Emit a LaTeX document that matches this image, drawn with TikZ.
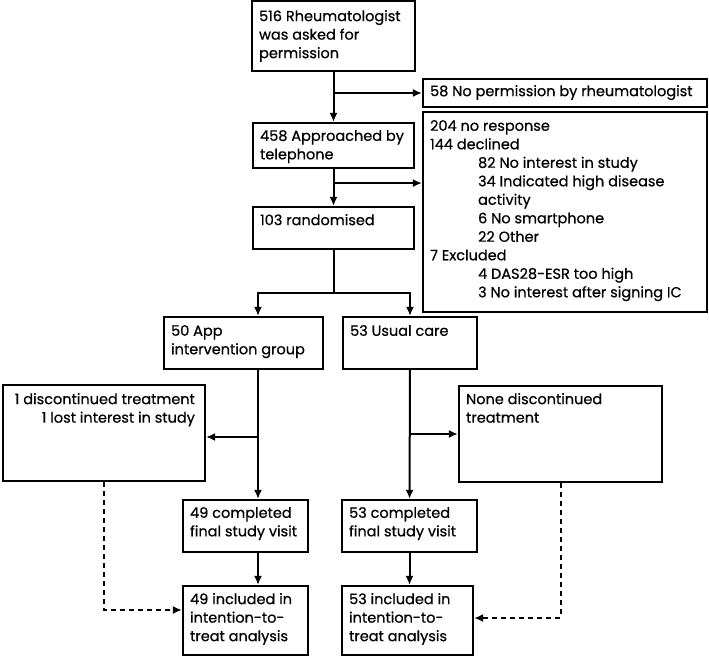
\documentclass[tikz,border=0pt]{standalone}
\usepackage{fontspec}
\setmainfont{Poppins}[BoldFont=Poppins, BoldFeatures={FakeBold=0.6}]
\usepackage{tikz}
\usetikzlibrary{arrows.meta, positioning, calc}

\newcommand{\sublvl}{\hspace*{48pt}}

\tikzset{
  box/.style={draw, line width=2.2pt, inner sep=0pt},
  txt/.style={inner sep=0pt, align=left, font=\bfseries\fontsize{14.5}{18.5}\selectfont},
  arr/.style={line width=2pt, -{Latex[length=9pt,width=8pt]}},
  dasharr/.style={arr, dash pattern=on 5pt off 4pt},
}

\begin{document}
\begin{tikzpicture}[x=1pt, y=-1pt]
  \useasboundingbox (0,0) rectangle (709,657);

  % boxes
  \node[box, minimum width=163pt, minimum height=70pt] (perm) at (333.5,36) {};
  \node[box, minimum width=284pt, minimum height=28pt] (noperm) at (565,93) {};
  \node[box, minimum width=161pt, minimum height=45pt] (phone) at (333.5,145.5) {};
  \node[box, minimum width=284pt, minimum height=200pt] (excl) at (565,212) {};
  \node[box, minimum width=161pt, minimum height=42pt] (rand) at (333.5,228) {};
  \node[box, minimum width=159pt, minimum height=52pt] (app) at (243.5,343) {};
  \node[box, minimum width=134pt, minimum height=52pt] (usual) at (410,343) {};
  \node[box, minimum width=202pt, minimum height=96pt] (lostL) at (104,433) {};
  \node[box, minimum width=203pt, minimum height=96pt] (noneR) at (560.5,434) {};
  \node[box, minimum width=125pt, minimum height=52pt] (compL) at (245.5,526) {};
  \node[box, minimum width=135pt, minimum height=52pt] (compR) at (409.5,526) {};
  \node[box, minimum width=125pt, minimum height=69pt] (ittL) at (245.5,620.5) {};
  \node[box, minimum width=131pt, minimum height=69pt] (ittR) at (407.5,620.5) {};

  % texts
  \node[txt, below right=10pt and 8pt of perm.north west] (permT)
    {516 Rheumatologist\\was asked for\\permission};
  \node[txt, below right=7pt and 8pt of noperm.north west] (nopermT)
    {58 No permission by rheumatologist};
  \node[txt, below right=8pt and 8pt of phone.north west] (phoneT)
    {458 Approached by\\telephone};
  \node[txt, below right=9pt and 8pt of excl.north west] (exclT)
    {204 no response\\144 declined\\
     \sublvl 82 No interest in study\\
     \sublvl 34 Indicated high disease\\
     \sublvl activity\\
     \sublvl 6 No smartphone\\
     \sublvl 22 Other\\
     7 Excluded\\
     \sublvl 4 DAS28-ESR too high\\
     \sublvl 3 No interest after signing IC};
  \node[txt, below right=8pt and 8pt of rand.north west] (randT)
    {103 randomised};
  \node[txt, below right=9pt and 8pt of app.north west] (appT)
    {50 App\\intervention group};
  \node[txt, below right=9pt and 8pt of usual.north west] (usualT)
    {53 Usual care};
  \node[txt, align=right, below left=9pt and 11pt of lostL.north east] (lostT)
    {1 discontinued treatment\\1 lost interest in study};
  \node[txt, below right=8pt and 8pt of noneR.north west] (noneT)
    {None discontinued\\treatment};
  \node[txt, below right=8pt and 8pt of compL.north west] (compLT)
    {49 completed\\final study visit};
  \node[txt, below right=8pt and 8pt of compR.north west] (compRT)
    {53 completed\\final study visit};
  \node[txt, below right=8pt and 8pt of ittL.north west] (ittLT)
    {49 included in\\intention-to-\\treat analysis};
  \node[txt, below right=8pt and 8pt of ittR.north west] (ittRT)
    {53 included in\\intention-to-\\treat analysis};

  % top column
  \draw[arr] (perm) -- (phone);
  \draw[arr] (perm.south |- noperm.west) -- (noperm.west);
  \draw[arr] (phone) -- (rand);
  \coordinate (br2) at ($(phone.south)!0.38!(rand.north)$);
  \draw[arr] (br2) -- (br2 -| excl.west);

  % randomisation split
  \draw[line width=2pt] (rand.south) -- ++(0,43) coordinate (split);
  \coordinate (colL) at ([xshift=14.5pt]app.south);
  \draw[arr] (split) -| (colL |- app.north);
  \draw[arr] (split) -| (usual.north);

  % left arm
  \draw[arr] (colL) -- (colL |- compL.north);
  \coordinate (brL) at (colL |- 0,437);
  \draw[arr] (brL) -- (brL -| lostL.east);
  \draw[arr] (compL.south -| colL) -- (colL |- ittL.north);
  \draw[dasharr] (lostL.south) |- ([yshift=10.5pt]ittL.west);

  % right arm
  \draw[arr] (usual) -- (compR);
  \draw[arr] (usual.south |- noneR.west) -- (noneR.west);
  \draw[arr] (compR.south) -- (compR.south |- ittR.north);
  \draw[dasharr] (noneR.south) |- ([yshift=2.5pt]ittR.east);
\end{tikzpicture}
\end{document}
